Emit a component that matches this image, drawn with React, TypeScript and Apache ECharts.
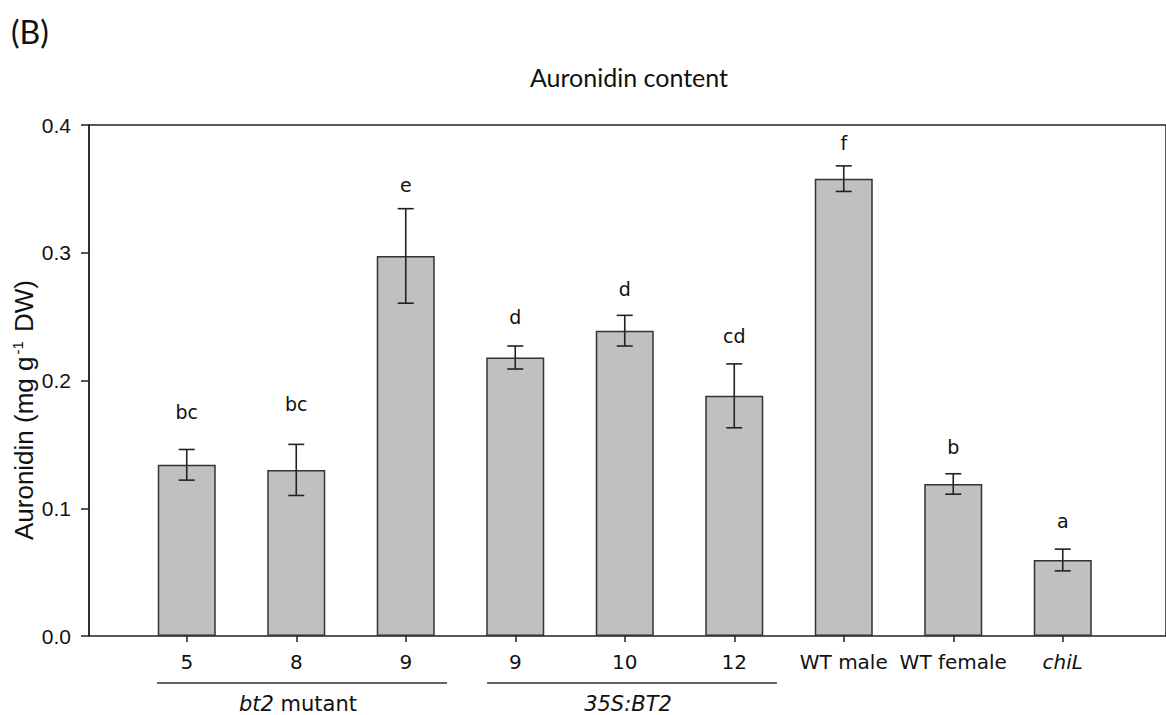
import React, { useEffect, useRef } from "react";
import * as echarts from "echarts";

const categories = ["5", "8", "9", "9 ", "10", "12", "WT male", "WT female", "chiL"];
const means = [0.134, 0.130, 0.2975, 0.218, 0.239, 0.188, 0.358, 0.119, 0.0595];
const errors = [0.012, 0.020, 0.037, 0.009, 0.012, 0.025, 0.010, 0.008, 0.0085];
const letters = ["bc", "bc", "e", "d", "d", "cd", "f", "b", "a"];
const letterY = [0.1753, 0.1816, 0.353, 0.2497, 0.2716, 0.2348, 0.386, 0.148, 0.090];
const yTicks = [0, 0.1, 0.2, 0.3, 0.4];

const SANS = "DejaVu Sans";
const ARIAL = "Liberation Sans";
const CAL = "Lato";

export default function App() {
  const ref = useRef<HTMLDivElement>(null);
  useEffect(() => {
    document.body.style.margin = "0";
    if (!ref.current) return;
    const chart = echarts.init(ref.current, null, { renderer: "svg" });
    const top = 125;
    const bottom = 79;
    chart.setOption({
      animation: false,
      backgroundColor: "#ffffff",
      grid: [
        { left: 89, right: -6, top, bottom, show: true, borderColor: "#222", borderWidth: 1.5, backgroundColor: "transparent" },
        { left: 132, right: 48.5, top, bottom },
      ],
      xAxis: [
        { type: "value", gridIndex: 0, min: 0, max: 1, show: false },
        {
          type: "category",
          gridIndex: 1,
          data: categories,
          axisLine: { show: false },
          axisTick: { show: true, alignWithLabel: true, length: 6, lineStyle: { color: "#222", width: 1.5 } },
          axisLabel: {
            margin: 16,
            fontSize: 20,
            fontFamily: SANS,
            color: "#111",
            interval: 0,
            formatter: (v: string) => (v === "chiL" ? "{i|chiL}" : v.trim()),
            rich: { i: { fontStyle: "italic", fontSize: 20, fontFamily: SANS, color: "#111" } },
          },
        },
      ],
      yAxis: [
        {
          type: "value",
          gridIndex: 0,
          min: yTicks[0],
          max: yTicks[yTicks.length - 1],
          interval: 0.1,
          splitLine: { show: false },
          axisLine: { show: true, lineStyle: { color: "#222", width: 1.5 } },
          axisTick: { show: true, length: 8, lineStyle: { color: "#222", width: 1.5 } },
          axisLabel: { fontSize: 21, fontFamily: ARIAL, color: "#111", margin: 18, formatter: (v: number) => v.toFixed(1) },
        },
        { type: "value", gridIndex: 1, min: 0, max: 0.4, show: false },
      ],
      series: [
        {
          type: "bar",
          xAxisIndex: 1,
          yAxisIndex: 1,
          data: means,
          barWidth: 58,
          itemStyle: { color: "#c0c0c0", borderColor: "#333", borderWidth: 1.5 },
        },
        {
          type: "custom",
          xAxisIndex: 1,
          yAxisIndex: 1,
          data: categories.map((_, i) => [i, means[i], errors[i]]),
          renderItem: (params: any, api: any) => {
            const i = api.value(0);
            const m = api.value(1);
            const e = api.value(2);
            const hi = api.coord([i, m + e]);
            const lo = api.coord([i, m - e]);
            const w = 8;
            const style = { stroke: "#222", lineWidth: 1.6 };
            return {
              type: "group",
              children: [
                { type: "line", shape: { x1: hi[0], y1: hi[1], x2: lo[0], y2: lo[1] }, style },
                { type: "line", shape: { x1: hi[0] - w, y1: hi[1], x2: hi[0] + w, y2: hi[1] }, style },
                { type: "line", shape: { x1: lo[0] - w, y1: lo[1], x2: lo[0] + w, y2: lo[1] }, style },
              ],
            };
          },
          z: 5,
        },
        {
          type: "custom",
          xAxisIndex: 1,
          yAxisIndex: 1,
          data: categories.map((_, i) => [i, letterY[i]]),
          renderItem: (params: any, api: any) => {
            const i = api.value(0);
            const p = api.coord([i, api.value(1)]);
            return {
              type: "text",
              x: p[0],
              y: p[1],
              style: {
                text: letters[params.dataIndex],
                textAlign: "center",
                textVerticalAlign: "middle",
                fontSize: 19,
                fontFamily: SANS,
                fill: "#111",
              },
            };
          },
          z: 6,
        },
      ],
      graphic: [
        { type: "text", x: 11, y: 31, style: { text: "(B)", fontSize: 32, fontFamily: CAL, fill: "#111", textVerticalAlign: "middle" } },
        {
          type: "text",
          x: 629,
          y: 77,
          style: { text: "Auronidin content", fontSize: 25, fontFamily: CAL, fill: "#111", textAlign: "center", textVerticalAlign: "middle" },
        },
        {
          type: "text",
          x: 24,
          y: 410,
          rotation: Math.PI / 2,
          style: {
            text: "Auronidin (mg g{sup|-1} DW)",
            fontSize: 26,
            fontFamily: ARIAL,
            fill: "#111",
            textAlign: "center",
            textVerticalAlign: "middle",
            rich: { sup: { fontSize: 15, fontFamily: ARIAL, fill: "#111", verticalAlign: "top", padding: [0, 2, 14, 2] } },
          },
        },
        { type: "line", shape: { x1: 157, y1: 683, x2: 447, y2: 683 }, style: { stroke: "#333", lineWidth: 1.3 } },
        { type: "line", shape: { x1: 487, y1: 683, x2: 777, y2: 683 }, style: { stroke: "#333", lineWidth: 1.3 } },
        {
          type: "text",
          x: 298,
          y: 704,
          style: {
            text: "{i|bt2} mutant",
            fontSize: 21,
            fontFamily: SANS,
            fill: "#111",
            textAlign: "center",
            textVerticalAlign: "middle",
            rich: { i: { fontStyle: "italic", fontSize: 21, fontFamily: SANS, fill: "#111" } },
          },
        },
        {
          type: "text",
          x: 628,
          y: 704,
          style: {
            text: "35S:BT2",
            fontSize: 21,
            fontStyle: "italic",
            fontFamily: SANS,
            fill: "#111",
            textAlign: "center",
            textVerticalAlign: "middle",
          },
        },
      ],
    });
    return () => chart.dispose();
  }, []);
  return <div ref={ref} style={{ width: 1166, height: 715 }} />;
}
